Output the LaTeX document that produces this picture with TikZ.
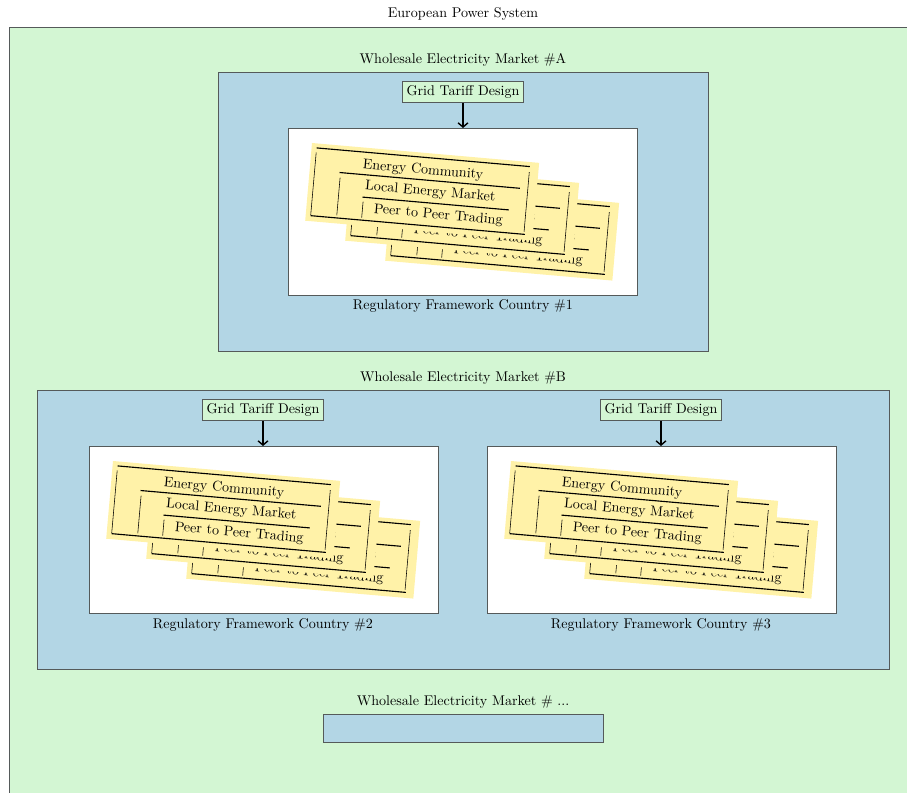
\documentclass[tikz,border=0pt]{standalone}
\usetikzlibrary{arrows.meta,positioning}

\definecolor{systemgreen}{RGB}{211,246,211}
\definecolor{marketblue}{RGB}{179,214,229}
\definecolor{cardyellow}{RGB}{255,242,168}
\definecolor{framegray}{RGB}{85,90,90}

\tikzset{
  market/.style={draw=framegray, fill=marketblue},
  framework/.style={draw=framegray, fill=white},
  tariff/.style={draw=framegray, fill=systemgreen, inner sep=3pt},
  caption/.style={inner sep=1pt},
  cardrule/.style={line width=0.8pt},
  tariffarrow/.style={line width=1pt, -{Straight Barb[length=3pt,width=7pt]}},
}

% one card of the stack, #1 = top left corner
\newcommand{\communitycard}[1]{%
  \begin{scope}[shift={#1}, rotate=-5, transform shape]
    \fill[cardyellow] (0,0) rectangle (228,78);
    \draw[cardrule] (5,4.5) -- (219,4.5);
    \draw[cardrule] (30,27) -- (211,27);
    \draw[cardrule] (55,49.5) -- (202,49.5);
    \draw[cardrule] (5,72.5) -- (220,72.5);
    \draw (5,9) -- (5,72);
    \draw (31,32) -- (31,70);
    \draw (56,54) -- (56,70);
    \draw (219,10) -- (219,70);
    \node at (113,17.5) {Energy Community};
    \node at (122,38.5) {Local Energy Market};
    \node at (132,61) {Peer to Peer Trading};
  \end{scope}}

% three cards, #1,#2 = corner of the front card
\newcommand{\cardstack}[2]{%
  \communitycard{(#1+80,#2+40)}
  \communitycard{(#1+40,#2+20)}
  \communitycard{(#1,#2)}}

\begin{document}
\begin{tikzpicture}[x=0.71pt, y=-0.71pt]
  \useasboundingbox (0,0) rectangle (907,793);
  \clip (0,0) rectangle (907,793);

  % power system
  \node[caption] (system) at (463,14) {European Power System};
  \draw[draw=framegray, fill=systemgreen] (9,27) rectangle (930,820);

  % market A
  \node[caption] (marketA) at (463,60) {Wholesale Electricity Market \#A};
  \draw[market] (218,72) rectangle (708,351);
  \node[tariff] (tariffA) at (463,92) {Grid Tariff Design};
  \draw[framework] (288,128) rectangle (637,295);
  \coordinate (frameworkA) at (463,128);
  \cardstack{312}{143}
  \node[caption] (country1) at (463,306) {Regulatory Framework Country \#1};
  \draw[tariffarrow] (tariffA) -- (frameworkA);

  % market B
  \node[caption] (marketB) at (463,378) {Wholesale Electricity Market \#B};
  \draw[market] (37,390) rectangle (889,669);

  \node[tariff] (tariffB2) at (263,410) {Grid Tariff Design};
  \draw[framework] (89,446) rectangle (438,613);
  \coordinate (frameworkB2) at (263,446);
  \cardstack{113}{461}
  \node[caption] (country2) at (263,625) {Regulatory Framework Country \#2};
  \draw[tariffarrow] (tariffB2) -- (frameworkB2);

  \node[tariff] (tariffB3) at (661,410) {Grid Tariff Design};
  \draw[framework] (487,446) rectangle (836,613);
  \coordinate (frameworkB3) at (661,446);
  \cardstack{511}{461}
  \node[caption] (country3) at (661,625) {Regulatory Framework Country \#3};
  \draw[tariffarrow] (tariffB3) -- (frameworkB3);

  % further markets
  \node[caption] (marketN) at (463,702) {Wholesale Electricity Market \# ...};
  \draw[market] (323,714) rectangle (603,742);
\end{tikzpicture}
\end{document}
